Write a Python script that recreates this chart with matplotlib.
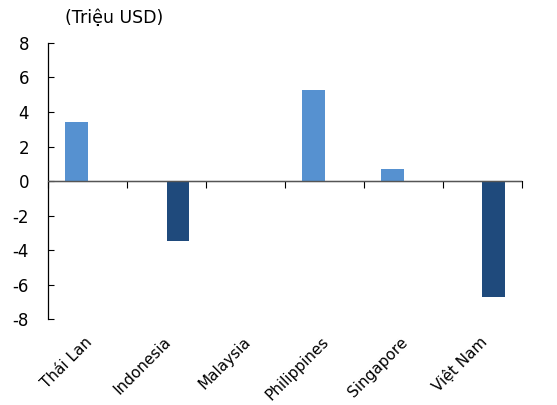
import matplotlib.pyplot as plt
import numpy as np
from matplotlib.transforms import ScaledTranslation

# Data (Triệu USD)
countries = ['Thái Lan', 'Indonesia', 'Malaysia', 'Philippines', 'Singapore', 'Việt Nam']
series_a = [3.4, 0.0, -0.05, 5.3, 0.7, 0.0]   # left bar of each group
series_b = [0.0, -3.5, 0.0, 0.0, 0.0, -6.7]   # right bar of each group
y_ticks = [-8, -6, -4, -2, 0, 2, 4, 6, 8]

light = '#5691D0'
dark = '#1F4A7C'

fig = plt.figure(figsize=(5.57, 4.05), dpi=100)
ax = fig.add_axes([0.087, 0.212, 0.850, 0.682])

x = np.arange(len(countries))
w = 0.285
colors_a = [light if v >= 0 else dark for v in series_a]
ax.bar(x - w / 2, series_a, width=w, color=colors_a, edgecolor='none')
ax.bar(x + w / 2, series_b, width=w, color=dark, edgecolor='none')

ax.set_xlim(-0.5, len(countries) - 0.5)
ax.set_ylim(-8, 8)
ax.set_yticks(y_ticks)
ax.set_yticklabels([str(v) for v in y_ticks], fontsize=12)
ax.tick_params(axis='y', direction='in', length=4, width=0.8, pad=14, colors='black')

for s in ['top', 'right', 'bottom']:
    ax.spines[s].set_visible(False)
ax.spines['left'].set_linewidth(0.9)
ax.axhline(0, color='#555555', linewidth=1.0, zorder=3)

# category labels at the bottom
ax.set_xticks(x)
ax.set_xticklabels(countries, rotation=45, ha='right', rotation_mode='anchor', fontsize=11)
ax.tick_params(axis='x', length=0, pad=11)
shift = ScaledTranslation(-0.03, 0, fig.dpi_scale_trans)
for lbl in ax.get_xticklabels():
    lbl.set_transform(lbl.get_transform() + shift)

# boundary ticks on the zero line
sec = ax.secondary_xaxis(0.5)
sec.set_xticks(np.arange(len(countries) + 1) - 0.5)
sec.tick_params(axis='x', direction='in', length=5, width=0.8, labelbottom=False, labeltop=False)
sec.set_xticklabels([])
sec.spines['bottom'].set_visible(False)

fig.text(0.117, 0.955, '(Triệu USD)', fontsize=12.5, va='center', ha='left')

plt.savefig('out.png', dpi=100)
